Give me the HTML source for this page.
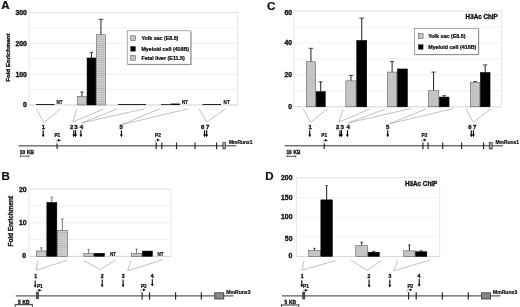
<!DOCTYPE html>
<html lang="en"><head><meta charset="utf-8"><title>Runx ChIP figure</title>
<style>html,body{margin:0;padding:0;background:#fff}body{width:520px;height:307px;overflow:hidden}svg{display:block}text{font-family:'Liberation Sans', Arial, sans-serif;font-weight:bold}</style>
</head><body>
<svg width="520" height="307" viewBox="0 0 520 307">
<defs><pattern id="hatch" width="2.15" height="2.15" patternUnits="userSpaceOnUse"><rect width="2.15" height="2.15" fill="#d3d3d3"/><rect x="0" width="0.5" height="2.15" fill="#c0c0c0"/><rect y="0" width="2.15" height="0.6" fill="#adadad"/></pattern>
<pattern id="vh" width="1.5" height="1.5" patternUnits="userSpaceOnUse"><rect width="1.5" height="1.5" fill="#8e8e8e"/><rect x="0" width="0.5" height="1.5" fill="#747474"/></pattern><filter id="soft" x="-2%" y="-2%" width="104%" height="104%"><feGaussianBlur stdDeviation="0.3"/></filter></defs>
<rect width="520" height="307" fill="#fff"/>
<g filter="url(#soft)">
<text x="1.2" y="9.4" font-size="11.5" text-anchor="start" fill="#0a0a0a" stroke="#0a0a0a" stroke-width="0.2" >A</text>
<line x1="29.2" y1="12.60" x2="237.8" y2="12.60" stroke="#e9e9e9" stroke-width="0.7" />
<line x1="29.2" y1="28.00" x2="237.8" y2="28.00" stroke="#e9e9e9" stroke-width="0.7" />
<line x1="29.2" y1="43.40" x2="237.8" y2="43.40" stroke="#e9e9e9" stroke-width="0.7" />
<line x1="29.2" y1="58.80" x2="237.8" y2="58.80" stroke="#e9e9e9" stroke-width="0.7" />
<line x1="29.2" y1="74.20" x2="237.8" y2="74.20" stroke="#e9e9e9" stroke-width="0.7" />
<line x1="29.2" y1="89.60" x2="237.8" y2="89.60" stroke="#e9e9e9" stroke-width="0.7" />
<line x1="29.2" y1="105.00" x2="237.8" y2="105.00" stroke="#e9e9e9" stroke-width="0.7" />
<line x1="29.2" y1="12.6" x2="29.2" y2="105.0" stroke="#dedede" stroke-width="0.7" />
<line x1="237.8" y1="12.6" x2="237.8" y2="105.0" stroke="#dedede" stroke-width="0.7" />
<line x1="29.2" y1="12.6" x2="237.8" y2="12.6" stroke="#dedede" stroke-width="0.7" />
<line x1="29.2" y1="105.0" x2="237.8" y2="105.0" stroke="#cfcfcf" stroke-width="0.7" />
<text x="26.9" y="15.00" font-size="6.9" text-anchor="end" fill="#0a0a0a" stroke="#0a0a0a" stroke-width="0.3" >300</text>
<text x="26.9" y="45.80" font-size="6.9" text-anchor="end" fill="#0a0a0a" stroke="#0a0a0a" stroke-width="0.3" >200</text>
<text x="26.9" y="76.60" font-size="6.9" text-anchor="end" fill="#0a0a0a" stroke="#0a0a0a" stroke-width="0.3" >100</text>
<text x="26.9" y="107.20" font-size="6.9" text-anchor="end" fill="#0a0a0a" stroke="#0a0a0a" stroke-width="0.3" >0</text>
<text transform="translate(10.2,57.6) rotate(-90)" font-size="6.15" text-anchor="middle" fill="#0a0a0a" stroke="#0a0a0a" stroke-width="0.3">Fold Enrichment</text>
<rect x="36.00" y="104.10" width="18.50" height="0.90" fill="#111" stroke="none" stroke-width="0.5" />
<text x="56.4" y="104.2" font-size="4.6" text-anchor="start" fill="#0a0a0a" stroke="#0a0a0a" stroke-width="0.15" >NT</text>
<line x1="81.95" y1="92.00" x2="81.95" y2="96.35" stroke="#222" stroke-width="1.0" />
<line x1="80.25" y1="92.00" x2="83.65" y2="92.00" stroke="#222" stroke-width="0.8" />
<rect x="77.55" y="96.35" width="8.80" height="8.65" fill="#c4c4c4" stroke="#4a4a4a" stroke-width="0.5" />
<line x1="91.45" y1="52.30" x2="91.45" y2="57.95" stroke="#222" stroke-width="1.0" />
<line x1="89.65" y1="52.30" x2="93.25" y2="52.30" stroke="#222" stroke-width="0.8" />
<rect x="87.05" y="57.95" width="8.80" height="47.05" fill="#000" stroke="#000" stroke-width="0.5" />
<line x1="100.95" y1="19.30" x2="100.95" y2="34.75" stroke="#222" stroke-width="1.0" />
<line x1="98.45" y1="19.30" x2="103.45" y2="19.30" stroke="#222" stroke-width="0.8" />
<rect x="96.45" y="34.75" width="9.00" height="70.25" fill="url(#hatch)" stroke="#4a4a4a" stroke-width="0.5" />
<rect x="118.00" y="104.10" width="28.00" height="0.90" fill="#111" stroke="none" stroke-width="0.5" />
<rect x="161.00" y="104.20" width="9.50" height="0.80" fill="#111" stroke="none" stroke-width="0.5" />
<rect x="170.50" y="103.60" width="9.50" height="1.40" fill="#111" stroke="none" stroke-width="0.5" />
<text x="182" y="104.2" font-size="4.6" text-anchor="start" fill="#0a0a0a" stroke="#0a0a0a" stroke-width="0.15" >NT</text>
<rect x="202.50" y="104.10" width="18.50" height="0.90" fill="#111" stroke="none" stroke-width="0.5" />
<text x="223.6" y="104.2" font-size="4.6" text-anchor="start" fill="#0a0a0a" stroke="#0a0a0a" stroke-width="0.15" >NT</text>
<rect x="128.00" y="31.60" width="63.70" height="33.50" fill="#a8a8a8" stroke="none" stroke-width="0.5" />
<rect x="127.20" y="30.80" width="63.60" height="33.40" fill="#fff" stroke="#707070" stroke-width="0.6" />
<rect x="130.70" y="35.80" width="4.80" height="4.80" fill="#c4c4c4" stroke="#4a4a4a" stroke-width="0.5" />
<text x="141.4" y="40.30" font-size="5.3" text-anchor="start" fill="#0a0a0a" stroke="#0a0a0a" stroke-width="0.22" >Yolk sac (E8.5)</text>
<rect x="130.70" y="46.40" width="4.80" height="4.80" fill="#000" stroke="#4a4a4a" stroke-width="0.5" />
<text x="141.4" y="50.90" font-size="5.3" text-anchor="start" fill="#0a0a0a" stroke="#0a0a0a" stroke-width="0.22" >Myeloid cell (416B)</text>
<rect x="130.70" y="55.50" width="4.80" height="4.80" fill="url(#hatch)" stroke="#4a4a4a" stroke-width="0.5" />
<text x="141.4" y="60.00" font-size="5.3" text-anchor="start" fill="#0a0a0a" stroke="#0a0a0a" stroke-width="0.22" >Fetal liver (E11.5)</text>
<line x1="36.4" y1="108.8" x2="43.9" y2="122.6" stroke="#8e8e8e" stroke-width="0.55" />
<line x1="60.6" y1="108.8" x2="43.9" y2="122.6" stroke="#8e8e8e" stroke-width="0.55" />
<line x1="76.8" y1="109.2" x2="72.8" y2="122.0" stroke="#8e8e8e" stroke-width="0.55" />
<line x1="103.3" y1="109.2" x2="72.8" y2="122.0" stroke="#8e8e8e" stroke-width="0.55" />
<line x1="117.5" y1="108.8" x2="82" y2="122.8" stroke="#8e8e8e" stroke-width="0.55" />
<line x1="144.8" y1="108.8" x2="82" y2="122.8" stroke="#8e8e8e" stroke-width="0.55" />
<line x1="159.7" y1="108.8" x2="122.5" y2="124.4" stroke="#8e8e8e" stroke-width="0.55" />
<line x1="188" y1="108.8" x2="122.5" y2="124.4" stroke="#8e8e8e" stroke-width="0.55" />
<line x1="199" y1="108.8" x2="206.9" y2="122" stroke="#8e8e8e" stroke-width="0.55" />
<line x1="225.4" y1="108.8" x2="206.9" y2="122" stroke="#8e8e8e" stroke-width="0.55" />
<text x="43.3" y="129.2" font-size="6.0" text-anchor="middle" fill="#0a0a0a" stroke="#0a0a0a" stroke-width="0.3" >1</text>
<text x="71.7" y="129.2" font-size="6.0" text-anchor="middle" fill="#0a0a0a" stroke="#0a0a0a" stroke-width="0.3" >2</text>
<text x="75.9" y="129.2" font-size="6.0" text-anchor="middle" fill="#0a0a0a" stroke="#0a0a0a" stroke-width="0.3" >3</text>
<text x="81.5" y="129.2" font-size="6.0" text-anchor="middle" fill="#0a0a0a" stroke="#0a0a0a" stroke-width="0.3" >4</text>
<text x="121.2" y="129.2" font-size="6.0" text-anchor="middle" fill="#0a0a0a" stroke="#0a0a0a" stroke-width="0.3" >5</text>
<text x="202.6" y="129.2" font-size="6.0" text-anchor="middle" fill="#0a0a0a" stroke="#0a0a0a" stroke-width="0.3" >6</text>
<text x="207.6" y="129.2" font-size="6.0" text-anchor="middle" fill="#0a0a0a" stroke="#0a0a0a" stroke-width="0.3" >7</text>
<line x1="43.2" y1="130.2" x2="43.2" y2="135.7" stroke="#000" stroke-width="1.1" />
<path d="M41.75 134.60 L44.65 134.60 L43.20 137.20 Z" fill="#000"/>
<line x1="73.8" y1="130.2" x2="73.8" y2="135.7" stroke="#000" stroke-width="1.1" />
<path d="M72.35 134.60 L75.25 134.60 L73.80 137.20 Z" fill="#000"/>
<line x1="75.6" y1="130.2" x2="75.6" y2="135.7" stroke="#000" stroke-width="1.1" />
<path d="M74.15 134.60 L77.05 134.60 L75.60 137.20 Z" fill="#000"/>
<line x1="80.9" y1="130.2" x2="80.9" y2="135.7" stroke="#000" stroke-width="1.1" />
<path d="M79.45 134.60 L82.35 134.60 L80.90 137.20 Z" fill="#000"/>
<line x1="121.4" y1="130.2" x2="121.4" y2="135.7" stroke="#000" stroke-width="1.1" />
<path d="M119.95 134.60 L122.85 134.60 L121.40 137.20 Z" fill="#000"/>
<line x1="204.6" y1="130.2" x2="204.6" y2="135.7" stroke="#000" stroke-width="1.1" />
<path d="M203.15 134.60 L206.05 134.60 L204.60 137.20 Z" fill="#000"/>
<line x1="206.7" y1="130.2" x2="206.7" y2="135.7" stroke="#000" stroke-width="1.1" />
<path d="M205.25 134.60 L208.15 134.60 L206.70 137.20 Z" fill="#000"/>
<text x="54.4" y="137.1" font-size="4.8" text-anchor="start" fill="#0a0a0a" stroke="#0a0a0a" stroke-width="0.2" >P1</text>
<text x="155.0" y="137.3" font-size="4.8" text-anchor="start" fill="#0a0a0a" stroke="#0a0a0a" stroke-width="0.2" >P2</text>
<line x1="18.5" y1="145.9" x2="236.4" y2="145.8" stroke="#2e2e2e" stroke-width="1.0" />
<line x1="56.3" y1="143.0" x2="56.3" y2="140.3" stroke="#8a8a8a" stroke-width="0.5" />
<line x1="56.3" y1="140.3" x2="58.199999999999996" y2="140.3" stroke="#555" stroke-width="0.5" />
<path d="M57.90 138.90 L61.00 140.30 L57.90 141.70 Z" fill="#000"/>
<line x1="155.2" y1="142.5" x2="155.2" y2="140.0" stroke="#8a8a8a" stroke-width="0.5" />
<line x1="155.2" y1="140.0" x2="157.4" y2="140.0" stroke="#555" stroke-width="0.5" />
<path d="M157.10 138.60 L159.90 140.00 L157.10 141.40 Z" fill="#000"/>
<line x1="57.1" y1="143.4" x2="57.1" y2="148.9" stroke="#222" stroke-width="1.15" />
<line x1="156.2" y1="142.4" x2="156.2" y2="149.2" stroke="#222" stroke-width="1.15" />
<line x1="161.8" y1="142.4" x2="161.8" y2="149.2" stroke="#222" stroke-width="1.15" />
<line x1="176.5" y1="142.4" x2="176.5" y2="149.2" stroke="#222" stroke-width="1.15" />
<line x1="195" y1="142.4" x2="195" y2="149.2" stroke="#222" stroke-width="1.15" />
<line x1="216.6" y1="142.4" x2="216.6" y2="149.2" stroke="#222" stroke-width="1.15" />
<rect x="222.90" y="142.60" width="2.60" height="6.40" fill="#9a9a9a" stroke="#222" stroke-width="0.6" />
<text x="228.9" y="144.2" font-size="4.95" text-anchor="start" fill="#0a0a0a" stroke="#0a0a0a" stroke-width="0.15" >MmRunx1</text>
<text x="19.8" y="154.0" font-size="4.75" text-anchor="start" fill="#0a0a0a" stroke="#0a0a0a" stroke-width="0.3" word-spacing="0.6">10 KB</text>
<line x1="20.4" y1="156.2" x2="28.9" y2="156.2" stroke="#111" stroke-width="0.7" />
<line x1="20.4" y1="155.2" x2="20.4" y2="157.3" stroke="#111" stroke-width="0.6" />
<line x1="28.9" y1="155.2" x2="28.9" y2="157.3" stroke="#111" stroke-width="0.6" />
<text x="267.0" y="9.8" font-size="11.5" text-anchor="start" fill="#0a0a0a" stroke="#0a0a0a" stroke-width="0.2" >C</text>
<line x1="294.0" y1="11.00" x2="501.5" y2="11.00" stroke="#e9e9e9" stroke-width="0.7" />
<line x1="294.0" y1="26.97" x2="501.5" y2="26.97" stroke="#e9e9e9" stroke-width="0.7" />
<line x1="294.0" y1="42.93" x2="501.5" y2="42.93" stroke="#e9e9e9" stroke-width="0.7" />
<line x1="294.0" y1="58.90" x2="501.5" y2="58.90" stroke="#e9e9e9" stroke-width="0.7" />
<line x1="294.0" y1="74.87" x2="501.5" y2="74.87" stroke="#e9e9e9" stroke-width="0.7" />
<line x1="294.0" y1="90.83" x2="501.5" y2="90.83" stroke="#e9e9e9" stroke-width="0.7" />
<line x1="294.0" y1="106.80" x2="501.5" y2="106.80" stroke="#e9e9e9" stroke-width="0.7" />
<line x1="294.0" y1="11.0" x2="294.0" y2="106.8" stroke="#dedede" stroke-width="0.7" />
<line x1="501.5" y1="11.0" x2="501.5" y2="106.8" stroke="#dedede" stroke-width="0.7" />
<line x1="294.0" y1="11.0" x2="501.5" y2="11.0" stroke="#dedede" stroke-width="0.7" />
<line x1="294.0" y1="106.8" x2="501.5" y2="106.8" stroke="#cfcfcf" stroke-width="0.7" />
<text x="292.2" y="15.10" font-size="6.9" text-anchor="end" fill="#0a0a0a" stroke="#0a0a0a" stroke-width="0.3" >60</text>
<text x="292.2" y="45.40" font-size="6.9" text-anchor="end" fill="#0a0a0a" stroke="#0a0a0a" stroke-width="0.3" >40</text>
<text x="292.2" y="77.20" font-size="6.9" text-anchor="end" fill="#0a0a0a" stroke="#0a0a0a" stroke-width="0.3" >20</text>
<text x="292.2" y="109.4" font-size="6.9" text-anchor="end" fill="#0a0a0a" stroke="#0a0a0a" stroke-width="0.3" >0</text>
<line x1="310.95" y1="48.30" x2="310.95" y2="61.75" stroke="#222" stroke-width="1.0" />
<line x1="308.75" y1="48.30" x2="313.15" y2="48.30" stroke="#222" stroke-width="0.8" />
<rect x="306.25" y="61.75" width="9.40" height="45.05" fill="#c4c4c4" stroke="#4a4a4a" stroke-width="0.5" />
<line x1="320.70" y1="81.80" x2="320.70" y2="91.65" stroke="#222" stroke-width="1.0" />
<line x1="318.70" y1="81.80" x2="322.70" y2="81.80" stroke="#222" stroke-width="0.8" />
<rect x="316.15" y="91.65" width="9.10" height="15.15" fill="#000" stroke="#000" stroke-width="0.5" />
<line x1="350.95" y1="75.40" x2="350.95" y2="80.85" stroke="#222" stroke-width="1.0" />
<line x1="348.75" y1="75.40" x2="353.15" y2="75.40" stroke="#222" stroke-width="0.8" />
<rect x="345.85" y="80.85" width="10.20" height="25.95" fill="#c4c4c4" stroke="#4a4a4a" stroke-width="0.5" />
<line x1="361.75" y1="18.10" x2="361.75" y2="40.45" stroke="#222" stroke-width="1.0" />
<line x1="359.35" y1="18.10" x2="364.15" y2="18.10" stroke="#222" stroke-width="0.8" />
<rect x="356.75" y="40.45" width="10.00" height="66.35" fill="#000" stroke="#000" stroke-width="0.5" />
<line x1="392.10" y1="61.50" x2="392.10" y2="72.05" stroke="#222" stroke-width="1.0" />
<line x1="390.00" y1="61.50" x2="394.20" y2="61.50" stroke="#222" stroke-width="0.8" />
<rect x="387.35" y="72.05" width="9.50" height="34.75" fill="#c4c4c4" stroke="#4a4a4a" stroke-width="0.5" />
<rect x="397.35" y="68.95" width="10.10" height="37.85" fill="#000" stroke="#000" stroke-width="0.5" />
<line x1="433.55" y1="72.10" x2="433.55" y2="90.75" stroke="#222" stroke-width="1.0" />
<line x1="431.35" y1="72.10" x2="435.75" y2="72.10" stroke="#222" stroke-width="0.8" />
<rect x="428.25" y="90.75" width="10.60" height="16.05" fill="#c4c4c4" stroke="#4a4a4a" stroke-width="0.5" />
<line x1="444.20" y1="95.60" x2="444.20" y2="97.05" stroke="#222" stroke-width="1.0" />
<line x1="442.50" y1="95.60" x2="445.90" y2="95.60" stroke="#222" stroke-width="0.8" />
<rect x="439.35" y="97.05" width="9.70" height="9.75" fill="#000" stroke="#000" stroke-width="0.5" />
<line x1="475.10" y1="81.50" x2="475.10" y2="82.45" stroke="#222" stroke-width="1.0" />
<line x1="473.40" y1="81.50" x2="476.80" y2="81.50" stroke="#222" stroke-width="0.8" />
<rect x="470.35" y="82.45" width="9.50" height="24.35" fill="#c4c4c4" stroke="#4a4a4a" stroke-width="0.5" />
<line x1="485.20" y1="64.90" x2="485.20" y2="72.45" stroke="#222" stroke-width="1.0" />
<line x1="483.10" y1="64.90" x2="487.30" y2="64.90" stroke="#222" stroke-width="0.8" />
<rect x="480.35" y="72.45" width="9.70" height="34.35" fill="#000" stroke="#000" stroke-width="0.5" />
<text x="497.8" y="19.3" font-size="6.3" text-anchor="end" fill="#0a0a0a" stroke="#0a0a0a" stroke-width="0.3" >H3Ac ChIP</text>
<rect x="415.20" y="29.30" width="64.00" height="25.90" fill="#a8a8a8" stroke="none" stroke-width="0.5" />
<rect x="414.40" y="28.50" width="63.90" height="25.80" fill="#fff" stroke="#707070" stroke-width="0.6" />
<rect x="418.30" y="33.65" width="4.80" height="4.80" fill="#c4c4c4" stroke="#4a4a4a" stroke-width="0.5" />
<text x="428.2" y="37.85" font-size="5.35" text-anchor="start" fill="#0a0a0a" stroke="#0a0a0a" stroke-width="0.22" >Yolk sac (E8.5)</text>
<rect x="418.30" y="44.55" width="4.80" height="4.80" fill="#000" stroke="#4a4a4a" stroke-width="0.5" />
<text x="428.2" y="48.75" font-size="5.35" text-anchor="start" fill="#0a0a0a" stroke="#0a0a0a" stroke-width="0.22" >Myeloid cell (416B)</text>
<line x1="303.1" y1="108.8" x2="310.6" y2="122" stroke="#8e8e8e" stroke-width="0.55" />
<line x1="327.7" y1="108.8" x2="310.6" y2="122" stroke="#8e8e8e" stroke-width="0.55" />
<line x1="342.8" y1="109.2" x2="339.1" y2="122.0" stroke="#8e8e8e" stroke-width="0.55" />
<line x1="369.4" y1="109.2" x2="339.1" y2="122.0" stroke="#8e8e8e" stroke-width="0.55" />
<line x1="384.9" y1="109.2" x2="348.6" y2="122.8" stroke="#8e8e8e" stroke-width="0.55" />
<line x1="410.9" y1="108.6" x2="348.6" y2="122.8" stroke="#8e8e8e" stroke-width="0.55" />
<line x1="426.2" y1="108.8" x2="389.8" y2="123.7" stroke="#8e8e8e" stroke-width="0.55" />
<line x1="453.7" y1="108.5" x2="389.8" y2="123.7" stroke="#8e8e8e" stroke-width="0.55" />
<line x1="466" y1="108.8" x2="473.1" y2="122" stroke="#8e8e8e" stroke-width="0.55" />
<line x1="491.5" y1="108.8" x2="473.1" y2="122" stroke="#8e8e8e" stroke-width="0.55" />
<text x="310.1" y="129.2" font-size="6.0" text-anchor="middle" fill="#0a0a0a" stroke="#0a0a0a" stroke-width="0.3" >1</text>
<text x="337.7" y="129.2" font-size="6.0" text-anchor="middle" fill="#0a0a0a" stroke="#0a0a0a" stroke-width="0.3" >2</text>
<text x="342.1" y="129.2" font-size="6.0" text-anchor="middle" fill="#0a0a0a" stroke="#0a0a0a" stroke-width="0.3" >3</text>
<text x="348.2" y="129.2" font-size="6.0" text-anchor="middle" fill="#0a0a0a" stroke="#0a0a0a" stroke-width="0.3" >4</text>
<text x="387.6" y="129.2" font-size="6.0" text-anchor="middle" fill="#0a0a0a" stroke="#0a0a0a" stroke-width="0.3" >5</text>
<text x="469.9" y="129.2" font-size="6.0" text-anchor="middle" fill="#0a0a0a" stroke="#0a0a0a" stroke-width="0.3" >6</text>
<text x="474.6" y="129.2" font-size="6.0" text-anchor="middle" fill="#0a0a0a" stroke="#0a0a0a" stroke-width="0.3" >7</text>
<line x1="309.7" y1="130.2" x2="309.7" y2="135.7" stroke="#000" stroke-width="1.1" />
<path d="M308.25 134.60 L311.15 134.60 L309.70 137.20 Z" fill="#000"/>
<line x1="340.0" y1="130.2" x2="340.0" y2="135.7" stroke="#000" stroke-width="1.1" />
<path d="M338.55 134.60 L341.45 134.60 L340.00 137.20 Z" fill="#000"/>
<line x1="341.5" y1="130.2" x2="341.5" y2="135.7" stroke="#000" stroke-width="1.1" />
<path d="M340.05 134.60 L342.95 134.60 L341.50 137.20 Z" fill="#000"/>
<line x1="347.4" y1="130.2" x2="347.4" y2="135.7" stroke="#000" stroke-width="1.1" />
<path d="M345.95 134.60 L348.85 134.60 L347.40 137.20 Z" fill="#000"/>
<line x1="387.7" y1="130.2" x2="387.7" y2="135.7" stroke="#000" stroke-width="1.1" />
<path d="M386.25 134.60 L389.15 134.60 L387.70 137.20 Z" fill="#000"/>
<line x1="471.3" y1="130.2" x2="471.3" y2="135.7" stroke="#000" stroke-width="1.1" />
<path d="M469.85 134.60 L472.75 134.60 L471.30 137.20 Z" fill="#000"/>
<line x1="473.4" y1="130.2" x2="473.4" y2="135.7" stroke="#000" stroke-width="1.1" />
<path d="M471.95 134.60 L474.85 134.60 L473.40 137.20 Z" fill="#000"/>
<text x="321.2" y="137.1" font-size="4.8" text-anchor="start" fill="#0a0a0a" stroke="#0a0a0a" stroke-width="0.2" >P1</text>
<text x="421.5" y="137.3" font-size="4.8" text-anchor="start" fill="#0a0a0a" stroke="#0a0a0a" stroke-width="0.2" >P2</text>
<line x1="284.6" y1="145.8" x2="503.0" y2="145.8" stroke="#2e2e2e" stroke-width="1.0" />
<line x1="323.2" y1="143.0" x2="323.2" y2="140.3" stroke="#8a8a8a" stroke-width="0.5" />
<line x1="323.2" y1="140.3" x2="325.1" y2="140.3" stroke="#555" stroke-width="0.5" />
<path d="M324.80 138.90 L327.90 140.30 L324.80 141.70 Z" fill="#000"/>
<line x1="421.8" y1="142.5" x2="421.8" y2="140.0" stroke="#8a8a8a" stroke-width="0.5" />
<line x1="421.8" y1="140.0" x2="424.0" y2="140.0" stroke="#555" stroke-width="0.5" />
<path d="M423.70 138.60 L426.50 140.00 L423.70 141.40 Z" fill="#000"/>
<line x1="324.2" y1="143.2" x2="324.2" y2="148.9" stroke="#222" stroke-width="1.15" />
<line x1="422.9" y1="142.4" x2="422.9" y2="149.2" stroke="#222" stroke-width="1.15" />
<line x1="428.1" y1="142.4" x2="428.1" y2="149.2" stroke="#222" stroke-width="1.15" />
<line x1="442.7" y1="142.4" x2="442.7" y2="149.2" stroke="#222" stroke-width="1.15" />
<line x1="461.6" y1="142.4" x2="461.6" y2="149.2" stroke="#222" stroke-width="1.15" />
<line x1="483.6" y1="142.4" x2="483.6" y2="149.2" stroke="#222" stroke-width="1.15" />
<rect x="489.20" y="142.60" width="3.00" height="6.40" fill="#9a9a9a" stroke="#222" stroke-width="0.6" />
<text x="495.4" y="144.2" font-size="4.95" text-anchor="start" fill="#0a0a0a" stroke="#0a0a0a" stroke-width="0.15" >MmRunx1</text>
<text x="286.4" y="153.8" font-size="4.75" text-anchor="start" fill="#0a0a0a" stroke="#0a0a0a" stroke-width="0.3" word-spacing="0.6">10 KB</text>
<line x1="287.1" y1="156.3" x2="295.7" y2="156.3" stroke="#111" stroke-width="0.7" />
<line x1="287.1" y1="155.3" x2="287.1" y2="157.4" stroke="#111" stroke-width="0.6" />
<line x1="295.7" y1="155.3" x2="295.7" y2="157.4" stroke="#111" stroke-width="0.6" />
<text x="1.5" y="180.4" font-size="11.5" text-anchor="start" fill="#0a0a0a" stroke="#0a0a0a" stroke-width="0.2" >B</text>
<line x1="29.0" y1="189.20" x2="171.1" y2="189.20" stroke="#e9e9e9" stroke-width="0.7" />
<line x1="29.0" y1="206.00" x2="171.1" y2="206.00" stroke="#e9e9e9" stroke-width="0.7" />
<line x1="29.0" y1="222.80" x2="171.1" y2="222.80" stroke="#e9e9e9" stroke-width="0.7" />
<line x1="29.0" y1="239.60" x2="171.1" y2="239.60" stroke="#e9e9e9" stroke-width="0.7" />
<line x1="29.0" y1="256.40" x2="171.1" y2="256.40" stroke="#e9e9e9" stroke-width="0.7" />
<line x1="29.0" y1="189.2" x2="29.0" y2="256.4" stroke="#dedede" stroke-width="0.7" />
<line x1="171.1" y1="189.2" x2="171.1" y2="256.4" stroke="#dedede" stroke-width="0.7" />
<line x1="29.0" y1="189.2" x2="171.1" y2="189.2" stroke="#dedede" stroke-width="0.7" />
<line x1="29.0" y1="256.4" x2="171.1" y2="256.4" stroke="#cfcfcf" stroke-width="0.7" />
<text x="26.6" y="191.9" font-size="6.9" text-anchor="end" fill="#0a0a0a" stroke="#0a0a0a" stroke-width="0.3" >20</text>
<text x="26.6" y="224.6" font-size="6.9" text-anchor="end" fill="#0a0a0a" stroke="#0a0a0a" stroke-width="0.3" >10</text>
<text x="26.0" y="258.3" font-size="6.9" text-anchor="end" fill="#0a0a0a" stroke="#0a0a0a" stroke-width="0.3" >0</text>
<text transform="translate(12.6,221.2) rotate(-90)" font-size="6.4" text-anchor="middle" fill="#0a0a0a" stroke="#0a0a0a" stroke-width="0.3">Fold Enrichment</text>
<line x1="41.30" y1="247.80" x2="41.30" y2="250.95" stroke="#4a4a4a" stroke-width="0.75" />
<line x1="39.90" y1="247.80" x2="42.70" y2="247.80" stroke="#4a4a4a" stroke-width="0.6000000000000001" />
<rect x="36.25" y="250.95" width="10.10" height="5.45" fill="url(#hatch)" stroke="#4a4a4a" stroke-width="0.5" />
<line x1="51.85" y1="197.10" x2="51.85" y2="202.45" stroke="#4a4a4a" stroke-width="0.75" />
<line x1="50.35" y1="197.10" x2="53.35" y2="197.10" stroke="#4a4a4a" stroke-width="0.6000000000000001" />
<rect x="46.85" y="202.45" width="10.00" height="53.95" fill="#000" stroke="#000" stroke-width="0.5" />
<line x1="62.40" y1="219.00" x2="62.40" y2="230.25" stroke="#4a4a4a" stroke-width="0.75" />
<line x1="60.90" y1="219.00" x2="63.90" y2="219.00" stroke="#4a4a4a" stroke-width="0.6000000000000001" />
<rect x="57.35" y="230.25" width="10.10" height="26.15" fill="url(#hatch)" stroke="#4a4a4a" stroke-width="0.5" />
<line x1="88.65" y1="249.30" x2="88.65" y2="253.55" stroke="#4a4a4a" stroke-width="0.75" />
<line x1="87.35" y1="249.30" x2="89.95" y2="249.30" stroke="#4a4a4a" stroke-width="0.6000000000000001" />
<rect x="83.75" y="253.55" width="9.80" height="2.85" fill="#c4c4c4" stroke="#4a4a4a" stroke-width="0.5" />
<rect x="94.05" y="253.25" width="10.40" height="3.15" fill="#000" stroke="#000" stroke-width="0.5" />
<text x="110.0" y="255.8" font-size="4.6" text-anchor="start" fill="#0a0a0a" stroke="#0a0a0a" stroke-width="0.15" >NT</text>
<line x1="136.55" y1="249.00" x2="136.55" y2="253.55" stroke="#4a4a4a" stroke-width="0.75" />
<line x1="135.25" y1="249.00" x2="137.85" y2="249.00" stroke="#4a4a4a" stroke-width="0.6000000000000001" />
<rect x="131.25" y="253.55" width="10.60" height="2.85" fill="#c4c4c4" stroke="#4a4a4a" stroke-width="0.5" />
<rect x="142.35" y="251.05" width="10.10" height="5.35" fill="#000" stroke="#000" stroke-width="0.5" />
<text x="157.4" y="255.8" font-size="4.6" text-anchor="start" fill="#0a0a0a" stroke="#0a0a0a" stroke-width="0.15" >NT</text>
<line x1="37.8" y1="260.6" x2="36.0" y2="270.2" stroke="#8e8e8e" stroke-width="0.55" />
<line x1="67.7" y1="260.2" x2="36.0" y2="270.2" stroke="#8e8e8e" stroke-width="0.55" />
<line x1="83.5" y1="260.4" x2="100.5" y2="269.6" stroke="#8e8e8e" stroke-width="0.55" />
<line x1="115.8" y1="259.9" x2="100.5" y2="269.6" stroke="#8e8e8e" stroke-width="0.55" />
<line x1="130.7" y1="260.8" x2="127.7" y2="270.8" stroke="#8e8e8e" stroke-width="0.55" />
<line x1="163.2" y1="259.5" x2="127.7" y2="270.8" stroke="#8e8e8e" stroke-width="0.55" />
<text x="35.7" y="277.7" font-size="5.1" text-anchor="middle" fill="#0a0a0a" stroke="#0a0a0a" stroke-width="0.3" >1</text>
<text x="102.1" y="277.7" font-size="5.1" text-anchor="middle" fill="#0a0a0a" stroke="#0a0a0a" stroke-width="0.3" >2</text>
<text x="123.2" y="277.7" font-size="5.1" text-anchor="middle" fill="#0a0a0a" stroke="#0a0a0a" stroke-width="0.3" >3</text>
<text x="152.2" y="277.7" font-size="5.1" text-anchor="middle" fill="#0a0a0a" stroke="#0a0a0a" stroke-width="0.3" >4</text>
<line x1="35.2" y1="280.6" x2="35.2" y2="286.3" stroke="#000" stroke-width="1.1" />
<path d="M33.75 285.20 L36.65 285.20 L35.20 287.80 Z" fill="#000"/>
<line x1="102.2" y1="279.6" x2="102.2" y2="285.8" stroke="#000" stroke-width="1.1" />
<path d="M100.75 284.70 L103.65 284.70 L102.20 287.30 Z" fill="#000"/>
<line x1="123.1" y1="279.6" x2="123.1" y2="285.8" stroke="#000" stroke-width="1.1" />
<path d="M121.65 284.70 L124.55 284.70 L123.10 287.30 Z" fill="#000"/>
<line x1="152.3" y1="279.2" x2="152.3" y2="285.1" stroke="#000" stroke-width="1.1" />
<path d="M150.85 284.00 L153.75 284.00 L152.30 286.60 Z" fill="#000"/>
<text x="36.9" y="287.5" font-size="4.8" text-anchor="start" fill="#0a0a0a" stroke="#0a0a0a" stroke-width="0.2" >P1</text>
<text x="140.9" y="287.7" font-size="4.8" text-anchor="start" fill="#0a0a0a" stroke="#0a0a0a" stroke-width="0.2" >P2</text>
<line x1="15.8" y1="295.9" x2="233.3" y2="295.9" stroke="#5e5e5e" stroke-width="1.3" />
<line x1="37.0" y1="293.0" x2="37.0" y2="290.3" stroke="#8a8a8a" stroke-width="0.5" />
<line x1="37.0" y1="290.3" x2="38.8" y2="290.3" stroke="#555" stroke-width="0.5" />
<path d="M38.50 288.90 L41.70 290.30 L38.50 291.70 Z" fill="#000"/>
<line x1="140.6" y1="292.5" x2="140.6" y2="289.8" stroke="#8a8a8a" stroke-width="0.5" />
<line x1="140.6" y1="289.8" x2="143.3" y2="289.8" stroke="#555" stroke-width="0.5" />
<path d="M143.00 288.40 L145.80 289.80 L143.00 291.20 Z" fill="#000"/>
<rect x="36.40" y="292.50" width="2.10" height="6.20" fill="#555" stroke="#222" stroke-width="0.6" />
<line x1="142.1" y1="292.2" x2="142.1" y2="299.6" stroke="#222" stroke-width="1.15" />
<line x1="149.5" y1="292.2" x2="149.5" y2="299.6" stroke="#222" stroke-width="1.15" />
<line x1="175.6" y1="292.2" x2="175.6" y2="299.6" stroke="#222" stroke-width="1.15" />
<line x1="201.3" y1="292.2" x2="201.3" y2="299.6" stroke="#222" stroke-width="1.15" />
<rect x="214.70" y="292.80" width="9.10" height="6.20" fill="url(#vh)" stroke="#3a3a3a" stroke-width="0.8" />
<text x="226.2" y="293.9" font-size="5.1" text-anchor="start" fill="#0a0a0a" stroke="#0a0a0a" stroke-width="0.17" >MmRunx3</text>
<text x="18.1" y="303.9" font-size="4.8" text-anchor="start" fill="#0a0a0a" stroke="#0a0a0a" stroke-width="0.3" word-spacing="0.5">5 KB</text>
<line x1="15.2" y1="304.7" x2="32.4" y2="304.7" stroke="#111" stroke-width="0.9" />
<line x1="15.2" y1="303.8" x2="15.2" y2="307" stroke="#111" stroke-width="0.7" />
<line x1="32.4" y1="303.8" x2="32.4" y2="307" stroke="#111" stroke-width="0.7" />
<text x="265.2" y="180.4" font-size="11.5" text-anchor="start" fill="#0a0a0a" stroke="#0a0a0a" stroke-width="0.2" >D</text>
<line x1="296.4" y1="177.80" x2="439.7" y2="177.80" stroke="#f0f0f0" stroke-width="0.7" />
<line x1="296.4" y1="197.48" x2="439.7" y2="197.48" stroke="#f0f0f0" stroke-width="0.7" />
<line x1="296.4" y1="217.15" x2="439.7" y2="217.15" stroke="#f0f0f0" stroke-width="0.7" />
<line x1="296.4" y1="236.82" x2="439.7" y2="236.82" stroke="#f0f0f0" stroke-width="0.7" />
<line x1="296.4" y1="256.50" x2="439.7" y2="256.50" stroke="#f0f0f0" stroke-width="0.7" />
<line x1="296.4" y1="177.8" x2="296.4" y2="256.5" stroke="#dedede" stroke-width="0.7" />
<line x1="439.7" y1="177.8" x2="439.7" y2="256.5" stroke="#dedede" stroke-width="0.7" />
<line x1="296.4" y1="177.8" x2="439.7" y2="177.8" stroke="#dedede" stroke-width="0.7" />
<line x1="296.4" y1="256.5" x2="439.7" y2="256.5" stroke="#cfcfcf" stroke-width="0.7" />
<text x="292.5" y="180.30" font-size="6.9" text-anchor="end" fill="#0a0a0a" stroke="#0a0a0a" stroke-width="0.3" >200</text>
<text x="292.5" y="200.10" font-size="6.9" text-anchor="end" fill="#0a0a0a" stroke="#0a0a0a" stroke-width="0.3" >150</text>
<text x="292.5" y="219.40" font-size="6.9" text-anchor="end" fill="#0a0a0a" stroke="#0a0a0a" stroke-width="0.3" >100</text>
<text x="292.5" y="240.80" font-size="6.9" text-anchor="end" fill="#0a0a0a" stroke="#0a0a0a" stroke-width="0.3" >50</text>
<text x="292.3" y="258.2" font-size="6.9" text-anchor="end" fill="#0a0a0a" stroke="#0a0a0a" stroke-width="0.3" >0</text>
<line x1="314.45" y1="248.30" x2="314.45" y2="250.45" stroke="#222" stroke-width="1.0" />
<line x1="313.25" y1="248.30" x2="315.65" y2="248.30" stroke="#222" stroke-width="0.8" />
<rect x="308.55" y="250.45" width="11.80" height="6.05" fill="#c4c4c4" stroke="#4a4a4a" stroke-width="0.5" />
<line x1="326.65" y1="185.60" x2="326.65" y2="199.85" stroke="#222" stroke-width="1.0" />
<line x1="325.45" y1="185.60" x2="327.85" y2="185.60" stroke="#222" stroke-width="0.8" />
<rect x="320.85" y="199.85" width="11.60" height="56.65" fill="#000" stroke="#000" stroke-width="0.5" />
<line x1="361.70" y1="242.20" x2="361.70" y2="245.55" stroke="#222" stroke-width="1.0" />
<line x1="360.40" y1="242.20" x2="363.00" y2="242.20" stroke="#222" stroke-width="0.8" />
<rect x="355.75" y="245.55" width="11.90" height="10.95" fill="#c4c4c4" stroke="#4a4a4a" stroke-width="0.5" />
<line x1="373.75" y1="251.30" x2="373.75" y2="252.25" stroke="#222" stroke-width="1.0" />
<line x1="372.05" y1="251.30" x2="375.45" y2="251.30" stroke="#222" stroke-width="0.8" />
<rect x="368.15" y="252.25" width="11.20" height="4.25" fill="#000" stroke="#000" stroke-width="0.5" />
<line x1="409.35" y1="244.90" x2="409.35" y2="250.85" stroke="#222" stroke-width="1.0" />
<line x1="408.05" y1="244.90" x2="410.65" y2="244.90" stroke="#222" stroke-width="0.8" />
<rect x="403.65" y="250.85" width="11.40" height="5.65" fill="#c4c4c4" stroke="#4a4a4a" stroke-width="0.5" />
<line x1="421.20" y1="250.80" x2="421.20" y2="251.75" stroke="#222" stroke-width="1.0" />
<line x1="419.50" y1="250.80" x2="422.90" y2="250.80" stroke="#222" stroke-width="0.8" />
<rect x="415.55" y="251.75" width="11.30" height="4.75" fill="#000" stroke="#000" stroke-width="0.5" />
<text x="437.2" y="186.0" font-size="6.3" text-anchor="end" fill="#0a0a0a" stroke="#0a0a0a" stroke-width="0.3" >H3Ac ChIP</text>
<line x1="303.9" y1="260.9" x2="302.2" y2="270.2" stroke="#8e8e8e" stroke-width="0.55" />
<line x1="335.6" y1="260.4" x2="302.2" y2="270.2" stroke="#8e8e8e" stroke-width="0.55" />
<line x1="351.2" y1="260.4" x2="367.0" y2="270.6" stroke="#8e8e8e" stroke-width="0.55" />
<line x1="381.6" y1="260.4" x2="367.0" y2="270.6" stroke="#8e8e8e" stroke-width="0.55" />
<line x1="397.7" y1="260.0" x2="393.9" y2="270.9" stroke="#8e8e8e" stroke-width="0.55" />
<line x1="429.9" y1="260.0" x2="393.9" y2="270.9" stroke="#8e8e8e" stroke-width="0.55" />
<text x="302.2" y="277.6" font-size="5.1" text-anchor="middle" fill="#0a0a0a" stroke="#0a0a0a" stroke-width="0.3" >1</text>
<text x="369.0" y="277.6" font-size="5.1" text-anchor="middle" fill="#0a0a0a" stroke="#0a0a0a" stroke-width="0.3" >2</text>
<text x="389.9" y="277.6" font-size="5.1" text-anchor="middle" fill="#0a0a0a" stroke="#0a0a0a" stroke-width="0.3" >3</text>
<text x="418.8" y="277.6" font-size="5.1" text-anchor="middle" fill="#0a0a0a" stroke="#0a0a0a" stroke-width="0.3" >4</text>
<line x1="301.8" y1="280.2" x2="301.8" y2="285.9" stroke="#000" stroke-width="1.1" />
<path d="M300.35 284.80 L303.25 284.80 L301.80 287.40 Z" fill="#000"/>
<line x1="369.1" y1="279.4" x2="369.1" y2="286.1" stroke="#000" stroke-width="1.1" />
<path d="M367.65 285.00 L370.55 285.00 L369.10 287.60 Z" fill="#000"/>
<line x1="389.8" y1="279.4" x2="389.8" y2="286.1" stroke="#000" stroke-width="1.1" />
<path d="M388.35 285.00 L391.25 285.00 L389.80 287.60 Z" fill="#000"/>
<line x1="419.2" y1="279.0" x2="419.2" y2="285.3" stroke="#000" stroke-width="1.1" />
<path d="M417.75 284.20 L420.65 284.20 L419.20 286.80 Z" fill="#000"/>
<text x="303.1" y="287.6" font-size="4.8" text-anchor="start" fill="#0a0a0a" stroke="#0a0a0a" stroke-width="0.2" >P1</text>
<text x="407.4" y="287.7" font-size="4.8" text-anchor="start" fill="#0a0a0a" stroke="#0a0a0a" stroke-width="0.2" >P2</text>
<line x1="282.0" y1="295.8" x2="500.3" y2="295.8" stroke="#5e5e5e" stroke-width="1.3" />
<line x1="303.3" y1="293.0" x2="303.3" y2="290.3" stroke="#8a8a8a" stroke-width="0.5" />
<line x1="303.3" y1="290.3" x2="305.1" y2="290.3" stroke="#555" stroke-width="0.5" />
<path d="M304.80 288.90 L308.00 290.30 L304.80 291.70 Z" fill="#000"/>
<line x1="407.2" y1="292.5" x2="407.2" y2="289.8" stroke="#8a8a8a" stroke-width="0.5" />
<line x1="407.2" y1="289.8" x2="409.90000000000003" y2="289.8" stroke="#555" stroke-width="0.5" />
<path d="M409.60 288.40 L412.40 289.80 L409.60 291.20 Z" fill="#000"/>
<rect x="302.70" y="292.30" width="2.10" height="6.70" fill="#555" stroke="#222" stroke-width="0.6" />
<line x1="408.6" y1="292.2" x2="408.6" y2="299.6" stroke="#222" stroke-width="1.15" />
<line x1="416.2" y1="292.2" x2="416.2" y2="299.6" stroke="#222" stroke-width="1.15" />
<line x1="442.3" y1="292.2" x2="442.3" y2="299.6" stroke="#222" stroke-width="1.15" />
<line x1="468.3" y1="292.2" x2="468.3" y2="299.6" stroke="#222" stroke-width="1.15" />
<rect x="481.50" y="292.80" width="9.10" height="6.20" fill="url(#vh)" stroke="#3a3a3a" stroke-width="0.8" />
<text x="492.9" y="293.9" font-size="5.1" text-anchor="start" fill="#0a0a0a" stroke="#0a0a0a" stroke-width="0.17" >MmRunx3</text>
<text x="284.5" y="303.8" font-size="4.8" text-anchor="start" fill="#0a0a0a" stroke="#0a0a0a" stroke-width="0.3" word-spacing="0.5">5 KB</text>
<line x1="281.5" y1="305.0" x2="298.8" y2="305.0" stroke="#111" stroke-width="0.9" />
<line x1="281.5" y1="304.0" x2="281.5" y2="307" stroke="#111" stroke-width="0.7" />
<line x1="298.8" y1="304.0" x2="298.8" y2="307" stroke="#111" stroke-width="0.7" />
</g></svg></body></html>
